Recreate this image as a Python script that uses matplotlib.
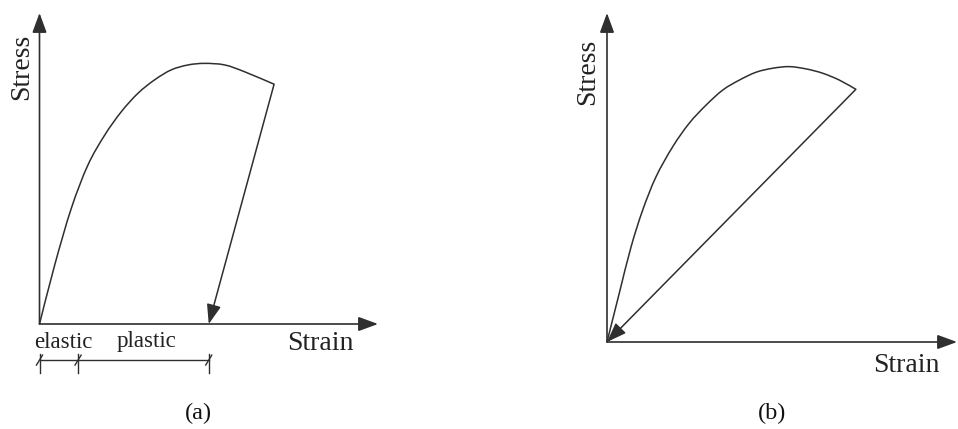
import matplotlib
matplotlib.use("Agg")
import matplotlib.pyplot as plt
from matplotlib.path import Path
from matplotlib.patches import PathPatch

plt.rcParams["font.family"] = ["Liberation Serif", "DejaVu Serif"]

# Loading curve of panel (a): strain / stress in arbitrary units
strain_a = [0.0, 0.45, 0.94, 1.43, 1.93, 2.42, 2.91, 3.40, 3.89, 4.39, 4.88, 5.47, 6.06, 6.93]
stress_a = [0.0, 1.90, 3.72, 5.11, 6.08, 6.83, 7.42, 7.85, 8.17, 8.33, 8.38, 8.33, 8.11, 7.71]
residual_strain_a = 5.0       # unloading ends at the permanent strain
elastic_limit_a = 1.14        # end of the elastic range

# Loading curve of panel (b): unloading returns to the origin
strain_b = [0.0, 0.35, 0.69, 1.02, 1.40, 1.88, 2.35, 2.83, 3.31, 3.78, 4.26, 4.73, 5.21, 5.69, 6.16, 6.64, 7.11]
stress_b = [0.0, 1.48, 2.90, 4.01, 5.02, 5.94, 6.65, 7.20, 7.66, 7.96, 8.20, 8.32, 8.37, 8.30, 8.17, 7.96, 7.68]
residual_strain_b = 0.0

axis_len = 10.0
W, H = 958, 429
INK = "#2f2f2f"


def smooth_path(xs, ys):
    """Cubic Bezier path passing through every point (Catmull-Rom tangents)."""
    pts = list(zip(xs, ys))
    n = len(pts)
    verts = [pts[0]]
    codes = [Path.MOVETO]
    for i in range(n - 1):
        p0 = pts[i - 1] if i > 0 else pts[i]
        p1 = pts[i]
        p2 = pts[i + 1]
        p3 = pts[i + 2] if i + 2 < n else pts[i + 1]
        c1 = (p1[0] + (p2[0] - p0[0]) / 6, p1[1] + (p2[1] - p0[1]) / 6)
        c2 = (p2[0] - (p3[0] - p1[0]) / 6, p2[1] - (p3[1] - p1[1]) / 6)
        verts += [c1, c2, p2]
        codes += [Path.CURVE4] * 3
    return Path(verts, codes)


def make_axes(fig, ox, oy, xlen, ylen):
    ax = fig.add_axes([ox / W, (H - oy) / H, xlen / W, ylen / H])
    ax.set_xlim(0, axis_len)
    ax.set_ylim(0, axis_len)
    ax.axis("off")
    arrow = dict(arrowstyle="-|>,head_length=0.6,head_width=0.22", color=INK,
                 lw=1.2, mutation_scale=20, shrinkA=0, shrinkB=0)
    ax.annotate("", xy=(axis_len, 0), xytext=(0, 0), arrowprops=arrow, annotation_clip=False)
    ax.annotate("", xy=(0, axis_len), xytext=(0, 0), arrowprops=arrow, annotation_clip=False)
    return ax


def draw_curve(ax, xs, ys, x_end):
    ax.add_patch(PathPatch(smooth_path(xs, ys), fill=False, ec=INK, lw=1.1, clip_on=False))
    ax.annotate("", xy=(x_end, 0), xytext=(xs[-1], ys[-1]), annotation_clip=False,
                arrowprops=dict(arrowstyle="-|>,head_length=0.6,head_width=0.22", color=INK,
                                lw=1.1, mutation_scale=20, shrinkA=0, shrinkB=0))


fig = plt.figure(figsize=(W / 100, H / 100), dpi=100)

# Panel (a)
ax_a = make_axes(fig, 39.5, 324, 338.5, 311)
draw_curve(ax_a, strain_a, stress_a, residual_strain_a)

# dimension line below the strain axis marking elastic / plastic ranges
dim_y = -1.16
ax_a.plot([0, residual_strain_a], [dim_y, dim_y], color=INK, lw=1.0, clip_on=False)
for xt in [0.0, elastic_limit_a, residual_strain_a]:
    ax_a.plot([xt, xt], [-0.96, -1.58], color=INK, lw=1.0, clip_on=False)
    ax_a.plot([xt - 0.09, xt + 0.09], [dim_y - 0.16, dim_y + 0.16], color=INK, lw=1.0, clip_on=False)

fig.text(22 / W, 1 - 67 / H, "Stress", rotation=90, ha="center", va="center", fontsize=20, color="#222")
fig.text(320 / W, 1 - 343 / H, "Strain", ha="center", va="center", fontsize=20, color="#222")
fig.text(63 / W, 1 - 342 / H, "elastic", ha="center", va="center", fontsize=16.5, color="#222")
fig.text(146 / W, 1 - 342 / H, "plastic", ha="center", va="center", fontsize=16.5, color="#222")
fig.text(198 / W, 1 - 413 / H, "(a)", ha="center", va="center", fontsize=17.5, color="#111")

# Panel (b)
ax_b = make_axes(fig, 607, 342, 350, 329)
draw_curve(ax_b, strain_b, stress_b, residual_strain_b)

fig.text(587.5 / W, 1 - 72 / H, "Stress", rotation=90, ha="center", va="center", fontsize=20, color="#222")
fig.text(906 / W, 1 - 365 / H, "Strain", ha="center", va="center", fontsize=20, color="#222")
fig.text(772 / W, 1 - 413 / H, "(b)", ha="center", va="center", fontsize=17.5, color="#111")

fig.savefig("out.png", dpi=100, facecolor="white")
